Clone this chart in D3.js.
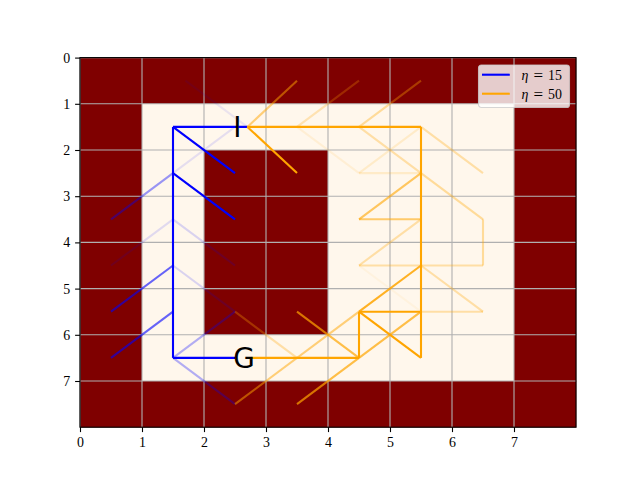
<!DOCTYPE html>
<html>
<head>
<meta charset="utf-8">
<script src="https://cdn.jsdelivr.net/npm/d3@7"></script>
<style>
body { margin: 0; background: #fff; }
</style>
</head>
<body>
<svg id="chart" width="640" height="480"></svg>
<script>
// Maze cells: 1 = wall, 0 = free
const maze = [
	[1, 1, 1, 1, 1, 1, 1, 1],
	[1, 0, 0, 0, 0, 0, 0, 1],
	[1, 0, 1, 1, 0, 0, 0, 1],
	[1, 0, 1, 1, 0, 0, 0, 1],
	[1, 0, 1, 1, 0, 0, 0, 1],
	[1, 0, 1, 1, 0, 0, 0, 1],
	[1, 0, 0, 0, 0, 0, 0, 1],
	[1, 1, 1, 1, 1, 1, 1, 1]
];
const ticks = [0, 1, 2, 3, 4, 5, 6, 7];
const etas = [15, 50];
// Path steps per eta: [x1, y1, x2, y2, weight]
const steps15 = [
	[1.7, 0.5, 2.7, 1.5, 0.08],
	[1.5, 2.5, 2.5, 1.5, 0.1],
	[0.5, 3.5, 1.5, 2.5, 0.4],
	[0.5, 4.5, 1.5, 3.5, 0.12],
	[1.5, 3.5, 2.5, 4.5, 0.15],
	[0.5, 5.5, 1.5, 4.5, 0.6],
	[1.5, 4.5, 2.5, 5.5, 0.15],
	[0.5, 6.5, 1.5, 5.5, 0.6],
	[1.5, 6.5, 2.5, 5.5, 0.3],
	[1.5, 6.5, 2.5, 7.5, 0.3],
	[2.7, 1.5, 1.5, 1.5, 1],
	[1.5, 1.5, 1.5, 6.5, 1],
	[1.5, 6.5, 2.5, 6.5, 1],
	[1.5, 1.5, 2.5, 2.5, 1],
	[1.5, 2.5, 2.5, 3.5, 1]
];
const steps50 = [
	[2.7, 1.5, 3.5, 0.5, 0.5],
	[3.5, 1.5, 4.5, 0.5, 0.25],
	[3.5, 1.5, 4.5, 2.5, 0.1],
	[4.5, 1.5, 5.5, 0.5, 0.35],
	[4.5, 1.5, 5.5, 2.5, 0.3],
	[4.5, 2.5, 5.5, 1.5, 0.15],
	[4.5, 2.5, 5.5, 2.5, 0.15],
	[5.5, 1.5, 6.5, 2.5, 0.3],
	[5.5, 2.5, 4.5, 3.5, 0.6],
	[4.5, 3.5, 5.5, 3.5, 0.55],
	[5.5, 2.5, 6.5, 3.5, 0.35],
	[6.5, 3.5, 6.5, 4.5, 0.35],
	[5.5, 3.5, 4.5, 4.5, 0.3],
	[4.5, 4.5, 6.5, 4.5, 0.3],
	[4.5, 4.5, 5.5, 5.5, 0.06],
	[5.5, 4.5, 6.5, 5.5, 0.3],
	[5.5, 5.5, 6.5, 5.5, 0.3],
	[5.5, 4.5, 4.5, 5.5, 0.85],
	[2.5, 5.5, 3.5, 6.5, 0.3],
	[2.5, 7.5, 4.5, 5.5, 0.5],
	[3.5, 5.5, 4.5, 6.5, 0.7],
	[3.5, 7.5, 5.5, 5.5, 0.7],
	[2.7, 1.5, 3.5, 2.5, 1],
	[2.7, 1.5, 5.5, 1.5, 1],
	[5.5, 1.5, 5.5, 6.5, 1],
	[5.5, 5.5, 4.5, 5.5, 1],
	[4.5, 5.5, 4.5, 6.5, 1],
	[4.5, 6.5, 2.77, 6.5, 1],
	[4.5, 5.5, 5.5, 6.5, 1]
];
const markers = [["I", 2.47, 1.5], ["G", 2.47, 6.5]];

const colors = ["#0000ff", "#ffa500"];
const allSteps = [steps15, steps50];

const svg = d3.select("#chart");
const x = d3.scaleLinear().domain([0, 8]).range([80, 576]);
const y = d3.scaleLinear().domain([0, 8]).range([57.6, 427.2]);
const cellColor = d3.scaleOrdinal().domain([0, 1]).range(["#fff7ec", "#7f0000"]);

// Maze image
const cells = [];
maze.forEach((row, r) => row.forEach((v, c) => cells.push({r: r, c: c, v: v})));
svg.append("g")
	.selectAll("rect")
	.data(cells)
	.join("rect")
	.attr("x", d => x(d.c))
	.attr("y", d => y(d.r))
	.attr("width", d => x(d.c + 1) - x(d.c) + 0.3)
	.attr("height", d => y(d.r + 1) - y(d.r) + 0.3)
	.attr("fill", d => cellColor(d.v));

// Grid
const grid = svg.append("g").attr("stroke", "#b0b0b0").attr("stroke-width", 1.1);
grid.selectAll(".gx").data(ticks).join("line")
	.attr("x1", d => x(d)).attr("x2", d => x(d))
	.attr("y1", y(0)).attr("y2", y(8));
grid.selectAll(".gy").data(ticks).join("line")
	.attr("y1", d => y(d)).attr("y2", d => y(d))
	.attr("x1", x(0)).attr("x2", x(8));

// Paths
allSteps.forEach((steps, i) => {
	svg.append("g")
		.selectAll("line")
		.data(steps.slice().sort((a, b) => a[4] - b[4]))
		.join("line")
		.attr("x1", d => x(d[0])).attr("y1", d => y(d[1]))
		.attr("x2", d => x(d[2])).attr("y2", d => y(d[3]))
		.attr("stroke", colors[i])
		.attr("stroke-opacity", d => d[4])
		.attr("stroke-width", 2.1)
		.attr("stroke-linecap", "butt");
});

// Start / goal labels
svg.append("g")
	.selectAll("text")
	.data(markers)
	.join("text")
	.attr("x", d => x(d[1]))
	.attr("y", d => y(d[2]) + 10)
	.attr("font-family", "DejaVu Sans")
	.attr("font-size", 27.8)
	.attr("fill", "#000")
	.text(d => d[0]);

// Axes
const tickFont = "Liberation Serif";
const xAxis = svg.append("g")
	.attr("transform", `translate(0,${y(8)})`)
	.call(d3.axisBottom(x).tickValues(ticks).tickSize(4.9).tickSizeOuter(0).tickPadding(4.9).tickFormat(d3.format("d")));
const yAxis = svg.append("g")
	.attr("transform", `translate(${x(0)},0)`)
	.call(d3.axisLeft(y).tickValues(ticks).tickSize(4.9).tickSizeOuter(0).tickPadding(4.9).tickFormat(d3.format("d")));
[xAxis, yAxis].forEach(a => {
	a.select(".domain").remove();
	a.selectAll("line").attr("stroke", "#000").attr("stroke-width", 1.1);
	a.selectAll("text").attr("font-family", tickFont).attr("font-size", 13.9).attr("fill", "#000");
});

// Spines
svg.append("rect")
	.attr("x", x(0)).attr("y", y(0))
	.attr("width", x(8) - x(0)).attr("height", y(8) - y(0))
	.attr("fill", "none").attr("stroke", "#000").attr("stroke-width", 1.1);

// Legend
const lg = svg.append("g").attr("transform", "translate(478.5,65)");
lg.append("rect")
	.attr("width", 91).attr("height", 42.5)
	.attr("rx", 2.8)
	.attr("fill", "#fff").attr("fill-opacity", 0.8)
	.attr("stroke", "#cccccc").attr("stroke-opacity", 0.8).attr("stroke-width", 1.1);
const items = lg.selectAll(".item").data(etas).join("g")
	.attr("transform", (d, i) => `translate(0,${9.7 + i * 19})`);
items.append("line")
	.attr("x1", 3.5).attr("x2", 31.3)
	.attr("stroke", (d, i) => colors[i]).attr("stroke-width", 2.1);
const lt = items.append("text")
	.attr("y", 4.8)
	.attr("font-family", tickFont).attr("font-size", 13.9).attr("fill", "#000");
lt.append("tspan").attr("x", 43).attr("font-style", "italic").text("η");
lt.append("tspan").attr("x", 55).attr("font-size", 17).attr("dy", 1).text("=");
lt.append("tspan").attr("x", 69.5).attr("dy", -1).text(d => d);
</script>
</body>
</html>
